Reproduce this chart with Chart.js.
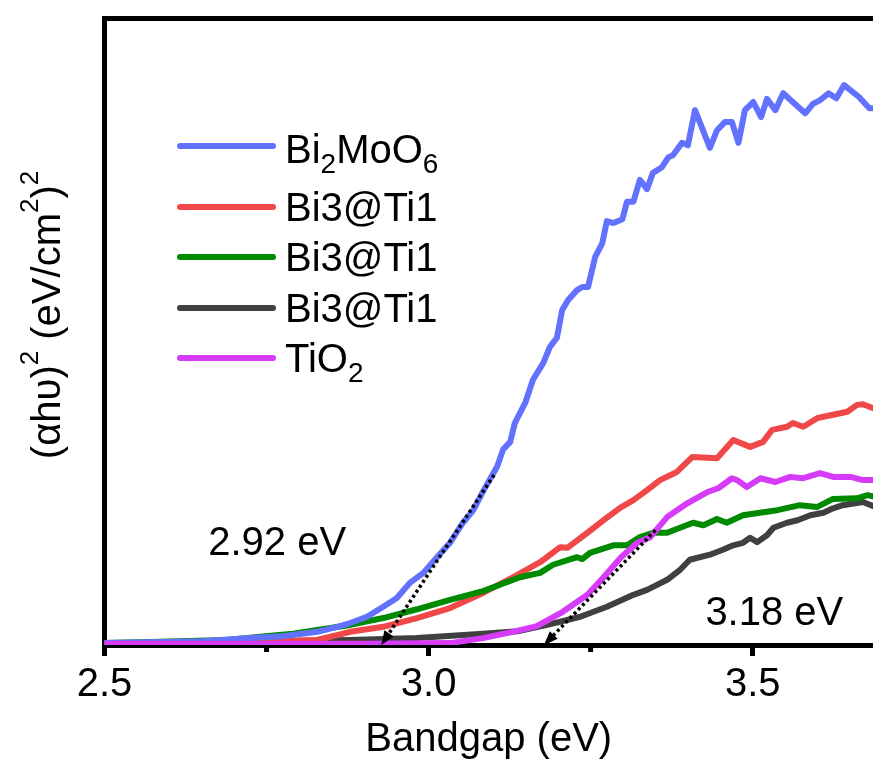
<!DOCTYPE html>
<html><head><meta charset="utf-8">
<script src="https://cdn.jsdelivr.net/npm/chart.js@4"></script>
<style>html,body{margin:0;padding:0;background:#fff;overflow:hidden}#wrap{width:873px;height:764px;position:relative}</style>
</head><body><div id="wrap"><canvas id="c"></canvas></div>
<script>
// ---- data ----
const seriesLabels = ['Bi_2MoO_6', 'Bi3@Ti1', 'Bi3@Ti1', 'Bi3@Ti1', 'TiO_2'];
const seriesColors = ['#6272FF', '#F04848', '#008A00', '#404040', '#D63CF8'];

const bi2moo6X = [2.50, 2.65, 2.725, 2.775, 2.828, 2.859, 2.879, 2.905, 2.930, 2.951, 2.971, 2.992, 3.013, 3.033, 3.053, 3.069, 3.084, 3.106, 3.115, 3.126, 3.133, 3.149, 3.161, 3.177, 3.187, 3.198, 3.206, 3.215, 3.229, 3.237, 3.246, 3.257, 3.268, 3.275, 3.285, 3.299, 3.306, 3.316, 3.326, 3.337, 3.346, 3.360, 3.370, 3.377, 3.391, 3.400, 3.411, 3.434, 3.445, 3.457, 3.468, 3.478, 3.488, 3.501, 3.513, 3.522, 3.535, 3.547, 3.581, 3.593, 3.604, 3.617, 3.629, 3.641, 3.664, 3.680, 3.690];
const bi2moo6Y = [0.3, 0.6, 1.1, 1.4, 2.1, 2.9, 3.5, 4.5, 6.1, 7.5, 9.9, 11.5, 14.0, 16.3, 19.5, 21.5, 24.5, 28.5, 31.2, 32.4, 35.4, 38.6, 42.3, 45.0, 47.5, 49.0, 53.4, 55.0, 56.6, 57.1, 57.1, 61.9, 64.1, 67.6, 67.3, 67.9, 70.7, 70.7, 74.2, 72.7, 75.3, 76.2, 77.8, 78.1, 80.1, 79.7, 85.3, 79.3, 82.1, 83.4, 83.4, 80.1, 85.3, 86.6, 84.2, 87.1, 85.3, 88.0, 84.8, 86.3, 86.9, 88.0, 87.2, 89.3, 87.4, 85.6, 85.6];

const redX = [2.50, 2.70, 2.766, 2.828, 2.879, 2.930, 2.982, 3.033, 3.084, 3.130, 3.172, 3.203, 3.214, 3.245, 3.275, 3.296, 3.316, 3.337, 3.357, 3.383, 3.407, 3.445, 3.470, 3.496, 3.516, 3.530, 3.553, 3.562, 3.578, 3.600, 3.646, 3.661, 3.670, 3.690];
const redY = [0.2, 0.3, 0.6, 0.8, 2.1, 2.9, 4.3, 5.9, 8.3, 10.8, 13.2, 15.6, 15.5, 17.9, 20.3, 21.9, 23.1, 24.7, 26.3, 27.6, 30.0, 29.8, 32.7, 31.6, 32.4, 34.3, 34.8, 35.4, 34.8, 36.2, 37.2, 38.3, 38.4, 37.6];

const greenX = [2.50, 2.586, 2.689, 2.740, 2.791, 2.828, 2.879, 2.930, 2.982, 3.033, 3.084, 3.110, 3.141, 3.172, 3.192, 3.229, 3.237, 3.249, 3.285, 3.306, 3.326, 3.346, 3.368, 3.408, 3.424, 3.445, 3.460, 3.485, 3.511, 3.538, 3.573, 3.599, 3.624, 3.661, 3.677, 3.690];
const greenY = [0.3, 0.5, 0.8, 1.3, 1.8, 2.4, 3.2, 4.3, 5.7, 7.2, 8.6, 9.6, 10.8, 11.5, 12.8, 14.0, 13.7, 14.7, 15.9, 15.9, 17.2, 17.9, 17.9, 19.5, 19.1, 20.1, 19.5, 20.7, 21.1, 21.5, 22.3, 22.0, 23.3, 23.4, 23.9, 23.6];

const darkX = [2.50, 2.879, 2.982, 3.084, 3.137, 3.183, 3.234, 3.275, 3.316, 3.337, 3.368, 3.388, 3.403, 3.434, 3.454, 3.470, 3.485, 3.496, 3.507, 3.522, 3.532, 3.553, 3.569, 3.589, 3.609, 3.624, 3.639, 3.670, 3.690];
const darkY = [0.2, 0.8, 1.1, 1.8, 2.2, 3.2, 4.5, 6.1, 8.0, 8.8, 10.4, 12.0, 13.6, 14.4, 15.2, 15.9, 16.3, 17.1, 16.4, 17.5, 18.7, 19.5, 19.9, 20.7, 21.1, 21.8, 22.3, 22.8, 22.0];

const tio2X = [2.50, 2.90, 3.033, 3.084, 3.130, 3.167, 3.207, 3.245, 3.269, 3.296, 3.322, 3.342, 3.368, 3.399, 3.430, 3.447, 3.468, 3.476, 3.491, 3.512, 3.535, 3.558, 3.578, 3.604, 3.624, 3.651, 3.670, 3.690];
const tio2Y = [0.2, 0.2, 0.3, 1.1, 2.1, 3.0, 5.3, 8.0, 10.7, 13.9, 16.3, 17.2, 20.4, 22.6, 24.4, 25.0, 26.6, 26.3, 25.2, 26.6, 26.0, 26.8, 26.6, 27.4, 26.8, 26.8, 26.3, 26.3];

const xTickValues = [2.5, 2.75, 3.0, 3.25, 3.5];
const xMajorTicks = [2.5, 3.0, 3.5];
const xMin = 2.5, xMax = 3.6856;
const yMin = 0, yMax = 100;
const xTitle = 'Bandgap (eV)';
// y title: [text, isSuperscript]
const yTitleParts = [['(\u03B1h\u03C5)', 0], ['2', 1], [' (eV/cm', 0], ['2', 1], [')', 0], ['2', 1]];

const annoText = ['2.92 eV', '3.18 eV'];
const annoX = [2.660, 3.427];
const annoY = [14.35, 3.2];
const arrowFromX = [3.101, 3.350];
const arrowFromY = [27.1, 18.3];
const arrowToX = [2.927, 3.178];
const arrowToY = [0, 0];

// ---- build ----
const seriesX = [bi2moo6X, redX, greenX, darkX, tio2X];
const seriesY = [bi2moo6Y, redY, greenY, darkY, tio2Y];
const drawOrder = [1, 3, 2, 4, 0];
const FONT = '"Liberation Sans", Arial, sans-serif';

function richSegments(s) {
  const out = [];
  let buf = '';
  for (let i = 0; i < s.length; i++) {
    if (s[i] === '_' && i + 1 < s.length) {
      if (buf) out.push([buf, 0]);
      buf = '';
      out.push([s[i + 1], 1]);
      i++;
    } else buf += s[i];
  }
  if (buf) out.push([buf, 0]);
  return out;
}

const decor = {
  id: 'decor',
  afterDatasetsDraw(chart) {
    const ctx = chart.ctx;
    const xs = chart.scales.x, ys = chart.scales.y;
    const ca = chart.chartArea;
    ctx.save();
    // minor ticks
    ctx.fillStyle = '#000';
    xTickValues.forEach(v => {
      if (xMajorTicks.includes(v)) return;
      const px = xs.getPixelForValue(v);
      ctx.fillRect(px - 2.5, ca.bottom, 5, 7);
    });
    // dotted arrows
    for (let i = 0; i < arrowFromX.length; i++) {
      const x1 = xs.getPixelForValue(arrowFromX[i]), y1 = ys.getPixelForValue(arrowFromY[i]);
      const x2 = xs.getPixelForValue(arrowToX[i]), y2 = ys.getPixelForValue(arrowToY[i]);
      const ang = Math.atan2(y2 - y1, x2 - x1);
      const headLen = 14, headHalf = 5.5;
      const bx = x2 - Math.cos(ang) * headLen, by = y2 - Math.sin(ang) * headLen;
      ctx.strokeStyle = '#000';
      ctx.lineWidth = 3.5;
      ctx.setLineDash([3, 3]);
      ctx.lineCap = 'butt';
      ctx.beginPath();
      ctx.moveTo(x1, y1);
      ctx.lineTo(bx, by);
      ctx.stroke();
      ctx.setLineDash([]);
      ctx.beginPath();
      ctx.moveTo(x2, y2);
      ctx.lineTo(bx + Math.sin(ang) * headHalf, by - Math.cos(ang) * headHalf);
      ctx.lineTo(bx - Math.sin(ang) * headHalf, by + Math.cos(ang) * headHalf);
      ctx.closePath();
      ctx.fill();
    }
    // annotation labels
    ctx.font = '40px ' + FONT;
    ctx.textBaseline = 'alphabetic';
    ctx.textAlign = 'left';
    for (let i = 0; i < annoText.length; i++) {
      ctx.fillText(annoText[i], xs.getPixelForValue(annoX[i]), ys.getPixelForValue(annoY[i]));
    }
    // legend
    const lineYs = [146, 207, 257, 308, 358];
    const baseYs = [163, 221, 271, 322, 372];
    chart.data.datasets.forEach((ds, i) => {
      ctx.strokeStyle = ds.borderColor;
      ctx.lineWidth = 6;
      ctx.lineCap = 'round';
      ctx.beginPath();
      ctx.moveTo(180, lineYs[i]);
      ctx.lineTo(273, lineYs[i]);
      ctx.stroke();
      let x = 285;
      richSegments(ds.label).forEach(([t, sub]) => {
        ctx.font = (sub ? '28px ' : '40px ') + FONT;
        ctx.fillStyle = '#000';
        ctx.fillText(t, x, baseYs[i] + (sub ? 10 : 0));
        x += ctx.measureText(t).width;
      });
    });
    // y title
    ctx.translate(60, 315);
    ctx.rotate(-Math.PI / 2);
    let total = 0;
    yTitleParts.forEach(([t, sup]) => {
      ctx.font = (sup ? '26px ' : '40px ') + FONT;
      total += ctx.measureText(t).width;
    });
    let x = -total / 2;
    yTitleParts.forEach(([t, sup]) => {
      ctx.font = (sup ? '26px ' : '40px ') + FONT;
      ctx.fillStyle = '#000';
      ctx.fillText(t, x, sup ? -22 : 0);
      x += ctx.measureText(t).width;
    });
    ctx.restore();
  }
};

new Chart(document.getElementById('c'), {
  type: 'line',
  data: {
    datasets: seriesLabels.map((label, i) => ({
      label,
      data: seriesX[i].map((x, j) => ({ x, y: seriesY[i][j] })),
      borderColor: seriesColors[i],
      backgroundColor: seriesColors[i],
      borderWidth: 6,
      pointRadius: 0,
      tension: 0,
      fill: false,
      borderJoinStyle: 'round',
      borderCapStyle: 'round',
      order: drawOrder[i]
    }))
  },
  options: {
    responsive: true,
    maintainAspectRatio: false,
    animation: false,
    devicePixelRatio: 1,
    layout: { padding: 0 },
    plugins: { legend: { display: false }, tooltip: { enabled: false } },
    scales: {
      x: {
        type: 'linear', position: 'bottom', min: xMin, max: xMax,
        afterBuildTicks: s => { s.ticks = xTickValues.map(v => ({ value: v })); },
        afterFit: s => { s.height = 119; },
        ticks: {
          font: { family: FONT, size: 40 }, color: '#000', padding: 5,
          maxRotation: 0, autoSkip: false,
          callback: v => xMajorTicks.includes(v) ? v.toFixed(1) : ''
        },
        grid: {
          display: true, drawOnChartArea: false, drawTicks: true,
          tickLength: 11, tickWidth: 5,
          tickColor: c => (c.tick && xMajorTicks.includes(c.tick.value)) ? '#000' : 'rgba(0,0,0,0)'
        },
        border: { display: true, color: '#000', width: 5 },
        title: { display: true, text: xTitle, color: '#000', font: { family: FONT, size: 40 }, padding: { top: 0, bottom: 0 } }
      },
      x2: {
        type: 'linear', position: 'top', min: xMin, max: xMax,
        ticks: { display: false }, grid: { display: false },
        border: { display: true, color: '#000', width: 5 },
        afterFit: s => { s.height = 18; }
      },
      y: {
        type: 'linear', position: 'left', min: yMin, max: yMax,
        ticks: { display: false }, grid: { display: false },
        border: { display: true, color: '#000', width: 5 },
        afterFit: s => { s.width = 104.5; }
      }
    }
  },
  plugins: [decor]
});
</script>
</body></html>
